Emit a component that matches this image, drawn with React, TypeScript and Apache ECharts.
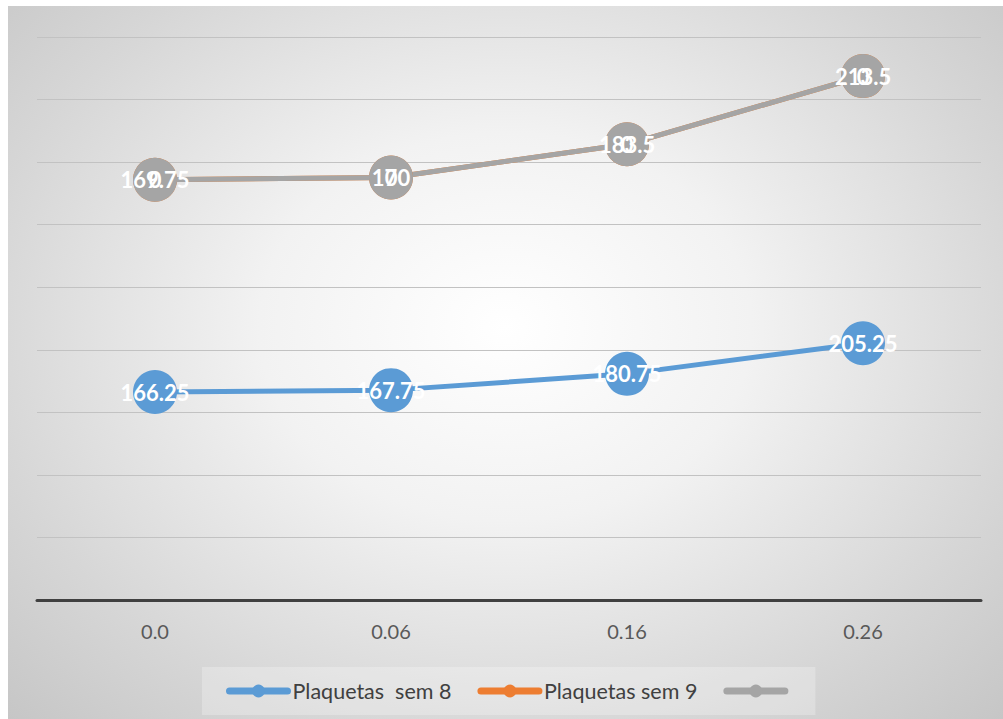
import React, { useEffect, useRef } from "react";
import * as echarts from "echarts";

const categories = ["0.0", "0.06", "0.16", "0.26"];
const seriesNames = ["Plaquetas  sem 8", "Plaquetas sem 9", " "];
const sem8 = [166.25, 167.75, 180.75, 205.25];
const sem9 = [169.75, 170, 183.5, 213.5];
const third = [0, 0, 0, 0];
const colors = ["#5b9bd5", "#ed7d31", "#a5a5a5"];

export default function App() {
  const ref = useRef<HTMLDivElement>(null);
  useEffect(() => {
    if (!ref.current) return;
    const chart = echarts.init(ref.current, undefined, { renderer: "svg" });
    const mk = (name: string, data: number[], color: string, stack?: string) => ({
      name,
      type: "line",
      data,
      stack,
      symbol: "circle",
      symbolSize: 44,
      lineStyle: { color, width: 5 },
      itemStyle: { color },
      label: {
        show: true,
        position: "inside",
        color: "#ffffff",
        fontFamily: "Lato",
        fontWeight: "bold",
        fontSize: 22,
      },
    });
    chart.setOption({
      animation: false,
      backgroundColor: "transparent",
      color: colors,
      grid: { left: 29, right: 22, top: 31, bottom: 119, containLabel: false },
      legend: {
        bottom: 4,
        left: 194,
        itemWidth: 58,
        itemHeight: 16,
        itemGap: 26,
        padding: [13, 20, 13, 24],
        backgroundColor: "rgba(255,255,255,0.25)",
        textStyle: { fontFamily: "Lato", fontSize: 21.5, color: "#404040" },
        data: seriesNames.map((n, i) => ({
          name: n,
          lineStyle: { width: 7, cap: "round", color: colors[i] },
          itemStyle: { color: colors[i] },
        })),
      },
      xAxis: {
        type: "category",
        data: categories,
        axisLine: { lineStyle: { color: "#404040", width: 3 } },
        axisTick: { show: false },
        axisLabel: { color: "#595959", fontFamily: "Lato", fontSize: 20, margin: 21 },
      },
      yAxis: {
        type: "value",
        min: 0,
        max: 450,
        interval: 50,
        axisLine: { show: false },
        axisTick: { show: false },
        axisLabel: { show: false },
        splitLine: { lineStyle: { color: "#c2c2c2", width: 1 } },
      },
      series: [
        mk(seriesNames[0], sem8, colors[0], "total"),
        mk(seriesNames[1], sem9, colors[1], "total"),
        mk(seriesNames[2], third, colors[2], "total"),
      ],
    });
    return () => chart.dispose();
  }, []);
  return (
    <div
      ref={ref}
      style={{
        position: "absolute",
        left: 8,
        top: 6,
        width: 995,
        height: 713,
        background:
          "radial-gradient(ellipse at 50% 45%, #ffffff 0%, #f2f2f2 35%, #d6d6d6 75%, #c6c6c6 100%)",
      }}
    />
  );
}
